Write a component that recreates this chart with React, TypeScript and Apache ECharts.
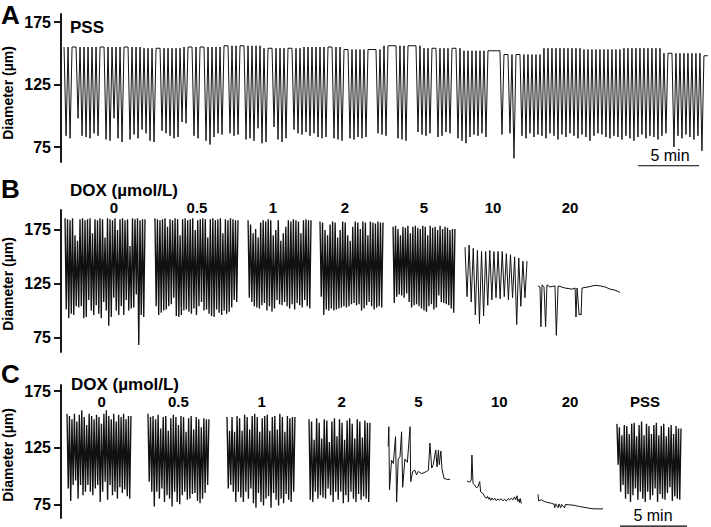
import React, { useEffect, useRef } from "react";
import * as echarts from "echarts";

const FONT = "'Liberation Sans', Arial, Helvetica, sans-serif";
const Y_TICKS = [75, 125, 175];

// ---------- Panel A (PSS), time in minutes ----------
const A_START_MIN = 0.25;
const A_END_MIN = 53.03;
// minimum diameter of each constriction (null = no constriction in that interval)
const A_DIPS: (number | null)[] = [
  84, 82, null, 98, 84, 83, 82, 86, 84, null,
  81, 80, 98, 82, 79, null, 81, 85, 82, 89,
  86, 80, 79, null, 88, 86, 84, 82, 83, 95,
  94, null, 84, 82, null, 80, 77, 83, 86, 85,
  null, 86, 84, 85, null, 81, 82, 80, 90, 78,
  79, null, 91, 81, 79, 82, null, 89, 86, 85,
  87, 84, 86, 83, 82, 83, null, 82, 81, 80,
  null, 82, 81, 83, 82, 83, null, null, 86, 85,
  84, null, null, 82, 81, 80, null, null, 87, 85,
  84, 86, null, 83, 84, 87, 86, null, 82, 80,
  78, 83, 85, 84, 86, 83, null, null, null, 85,
  null, 86, 66, null, 84, 82, 86, 83, 85, 84,
  82, 86, 84, 81, 85, 83, 86, 84, 82, 85,
  83, 80, 84, 86, 85, 83, 82, 84, 83, 81,
  84, 82, 80, 83, 85, 82, 84, 83, 81, 84,
  86, null, 75, 84, 82, 85, 83, 81, 84, 72,
  null,
];
// resting diameter, one value per 10 intervals
const A_BASELINE = [155, 155, 154, 155, 156, 154, 155, 153, 156, 154, 152, 149, 154, 153, 154, 150, 148];
const A_SCALEBAR_MIN = [47.3, 52.3];

// ---------- Panel B (DOX, vasomotion kept) ----------
const B_LABELS = ["0", "0.5", "1", "2", "5", "10", "20"];
const B_START_MIN = [0.3, 7.01, 13.96, 19.33, 24.78, 30.15, 35.6];
const B_END_MIN = [6.27, 13.21, 18.66, 24.03, 29.4, 34.78];
const B0_TOPS = [186, 185, 184, 186, 170, 165, 185, 186, 184, 185, 186, 172, 185, 184, 186, 185, 168, 186, 185, 184, 186, 175, 185, 186, 184, 185, 160, 186, 185, 186, 184, 185];
const B0_DIPS = [101, 93, 97, 96, 104, 103, 104, 93, 94, 110, 100, 96, 105, 97, 93, 108, 100, 86, 94, 112, 100, 96, 104, 96, 110, 100, 102, 103, 115, 68, 96, 94];
const B05_TOPS = [186, 185, 184, 185, 186, 178, 185, 184, 186, 185, 170, 185, 186, 184, 185, 186, 175, 184, 185, 186, 185, 168, 185, 186, 184, 185, 186, 172, 185, 184, 186, 185, 184];
const B05_DIPS = [104, 96, 98, 100, 101, 104, 106, 112, 95, 94, 96, 100, 101, 99, 97, 102, 96, 104, 108, 100, 101, 97, 95, 94, 101, 98, 96, 100, 97, 99, 103, 110, 108];
const B1_TOPS = [184, 180, 172, 176, 168, 182, 184, 183, 185, 184, 170, 175, 184, 165, 172, 178, 184, 183, 185, 184, 183, 172, 184, 185, 184];
const B1_DIPS = [112, 108, 104, 103, 102, 105, 107, 100, 104, 99, 102, 110, 106, 105, 108, 104, 102, 106, 101, 107, 105, 103, 110, 104, 102];
const B2_TOPS = [183, 182, 175, 170, 180, 183, 182, 168, 175, 183, 182, 170, 165, 178, 183, 182, 176, 183, 182, 170, 183, 182, 181, 183, 182];
const B2_DIPS = [113, 96, 101, 100, 102, 100, 101, 102, 103, 104, 103, 104, 106, 107, 105, 106, 100, 102, 105, 108, 104, 101, 103, 104, 103];
const B5_TOPS = [178, 179, 176, 170, 178, 177, 179, 172, 178, 179, 177, 176, 179, 178, 170, 179, 177, 178, 175, 179, 176, 178, 177, 175, 176];
const B5_DIPS = [107, 113, 115, 114, 112, 116, 108, 103, 105, 106, 104, 102, 100, 99, 104, 106, 101, 103, 114, 108, 107, 106, 105, 102, 98];
const B10_TOPS = [159, 161, 158, 156, 155, 155, 156, 155, 155, 155, 153, 152, 150, 149, 146];
const B10_DIPS = [113, 108, 96, 88, 95, 105, 110, 112, 111, 113, 110, 112, 87, 104, 112];
const B20_SEC = [0, 9, 13, 18, 27, 34, 40, 54, 76, 82, 90, 121, 152, 166, 170, 175, 184, 188, 193, 197, 224, 255, 278, 300, 323, 345, 367];
const B20_VAL = [123, 122, 85, 124, 122, 85, 124, 122, 123, 77, 123, 121, 120, 121, 94, 121, 96, 97, 96, 121, 122, 123.5, 123, 122, 120, 119, 117];

// ---------- Panel C (DOX, then washout PSS) ----------
const C_LABELS = ["0", "0.5", "1", "2", "5", "10", "20", "PSS"];
const C_START_MIN = [0.45, 6.49, 12.39, 18.51, 24.4, 30.3, 35.6, 41.49];
const C_END_MIN = [5.22, 11.04, 17.46, 23.06];
const CPSS_END_MIN = 46.27;
const C0_TOPS = [155, 153, 150, 155, 148, 154, 158, 152, 145, 155, 153, 150, 154, 152, 146, 155, 158, 153, 150, 155, 148, 154, 152, 155, 150, 153];
const C0_DIPS = [89, 78, 92, 96, 80, 92, 83, 86, 92, 86, 83, 89, 92, 77, 86, 95, 79, 92, 83, 86, 80, 90, 85, 88, 82, 80];
const C05_TOPS = [155, 152, 153, 150, 154, 142, 152, 153, 140, 151, 154, 152, 145, 153, 152, 139, 151, 153, 141, 152, 150, 143, 151, 150];
const C05_DIPS = [95, 86, 73, 86, 80, 89, 77, 83, 80, 73, 86, 77, 75, 83, 86, 79, 80, 84, 85, 78, 76, 80, 85, 92];
const C1_TOPS = [152, 140, 152, 139, 153, 151, 140, 154, 152, 141, 153, 155, 152, 139, 151, 153, 154, 140, 152, 153, 141, 155, 152, 139, 153, 151, 152];
const C1_DIPS = [89, 92, 86, 77, 86, 81, 77, 86, 80, 89, 76, 72, 85, 77, 74, 80, 82, 72, 85, 79, 74, 80, 76, 84, 79, 77, 86];
const C2_TOPS = [150, 148, 132, 151, 147, 133, 150, 149, 130, 148, 151, 135, 150, 147, 132, 149, 151, 146, 133, 150, 148, 134, 149, 147];
const C2_DIPS = [79, 77, 86, 80, 83, 81, 80, 89, 83, 77, 86, 79, 86, 76, 83, 77, 86, 80, 77, 84, 79, 82, 80, 77];
const C5_SEC = [1, 4, 7, 16, 24, 34, 39, 46, 54, 61, 66, 76, 87, 99, 102, 111, 121, 128, 136, 151, 173, 181, 188, 196, 203, 214, 220, 226, 230, 237, 242, 251, 263, 278];
const C5_VAL = [126, 143.5, 87.6, 114, 111, 134.7, 77, 115, 117, 139, 90, 115, 112, 143.5, 95, 104, 105, 101, 104, 102, 104, 105, 129, 107, 110, 123, 108, 123, 110, 122, 106, 98, 97, 97];
const C10_SEC = [0, 12, 19, 22, 27, 34, 42, 49, 57, 61, 72, 79, 87, 92, 97, 101, 106, 112, 118, 124, 131, 138, 146, 153, 161, 168, 176, 184, 191, 198, 206, 213, 218, 224, 228, 233, 236, 239, 243];
const C10_VAL = [95.6, 94.5, 96.5, 118.5, 93.5, 92, 89.7, 90.5, 95, 86, 84.5, 81.7, 80.3, 82, 79.5, 81, 78.5, 80.5, 78.8, 80.2, 78.2, 79.8, 78.5, 80, 78, 79.5, 78, 80, 78.8, 80.5, 79, 81.5, 79, 82.5, 77.5, 79.5, 76.5, 80, 75.7];
const C20_SEC = [0, 3, 15, 30, 45, 60, 72, 75, 78, 90, 93, 102, 105, 119, 122, 142, 164, 187, 216, 246, 291];
const C20_VAL = [83.8, 78, 79, 77.3, 76.5, 75.9, 75, 72, 75.5, 72, 75.3, 72, 75, 71.8, 74.8, 74.5, 74, 73, 72, 71, 70.9];
const CPSS_TOPS = [146, 143, 136, 145, 144, 137, 146, 147, 135, 145, 148, 136, 146, 144, 137, 145, 147, 136, 144, 146, 135, 143, 145, 137, 144, 142];
const CPSS_DIPS = [110, 86, 92, 80, 84, 77, 83, 89, 79, 86, 80, 77, 86, 79, 83, 89, 77, 84, 80, 79, 85, 90, 78, 82, 80, 79];
const C_SCALEBAR_MIN = [41.72, 46.72];

// ---------- builders ----------
function comb(start: number, end: number, tops: number[], dips: (number | null)[]) {
  const n = dips.length;
  const step = (end - start) / n;
  const out: number[][] = [];
  for (let k = 0; k < n; k++) {
    const top = tops[Math.min(k, tops.length - 1)];
    const d = dips[k];
    out.push([start + k * step, top]);
    out.push([start + (k + 0.5) * step, d == null ? top : d]);
  }
  out.push([end, tops[Math.min(n - 1, tops.length - 1)]]);
  return out;
}
function trace(start: number, secs: number[], vals: number[]) {
  return secs.map((s, i) => [start + s / 60, vals[i]]);
}

// ---------- layout (pixels) ----------
const LAYOUT = {
  grids: [
    { left: 61, top: 14, width: 650, height: 148, ymin: 63.0, ymax: 181.4, xmax: 53.28 },
    { left: 61, top: 210, width: 650, height: 142, ymin: 61.5, ymax: 193.6, xmax: 48.51 },
    { left: 61, top: 385, width: 650, height: 133, ymin: 62.9, ymax: 180.3, xmax: 48.51 },
  ],
  bLabelX: [114, 197, 273, 345, 424, 493, 570],
  bLabelY: 207,
  cLabelX: [101.7, 178.3, 261.7, 341.7, 418.3, 499.3, 570, 645],
  cLabelY: 401.7,
};

const LINE_COLOR = "#111";
const W_A = 1.0;
const W_COMB = 1.35;
const W_TRACE = 1.0;

function App() {
  const ref = useRef<HTMLDivElement>(null);
  useEffect(() => {
    if (!ref.current) return;
    const chart = echarts.init(ref.current, undefined, { renderer: "svg" });

    const seg = (data: number[][], axis: number, width: number) => ({
      type: "line",
      xAxisIndex: axis,
      yAxisIndex: axis,
      data,
      symbol: "none",
      showSymbol: false,
      silent: true,
      lineStyle: { color: LINE_COLOR, width },
    });

    const aTops = A_DIPS.map((_, k) => A_BASELINE[Math.floor(k / 10)]);
    const series: any[] = [
      seg(comb(A_START_MIN, A_END_MIN, aTops, A_DIPS), 0, W_A),
      seg(comb(B_START_MIN[0], B_END_MIN[0], B0_TOPS, B0_DIPS), 1, W_COMB),
      seg(comb(B_START_MIN[1], B_END_MIN[1], B05_TOPS, B05_DIPS), 1, W_COMB),
      seg(comb(B_START_MIN[2], B_END_MIN[2], B1_TOPS, B1_DIPS), 1, W_COMB),
      seg(comb(B_START_MIN[3], B_END_MIN[3], B2_TOPS, B2_DIPS), 1, W_COMB),
      seg(comb(B_START_MIN[4], B_END_MIN[4], B5_TOPS, B5_DIPS), 1, W_COMB),
      seg(comb(B_START_MIN[5], B_END_MIN[5], B10_TOPS, B10_DIPS), 1, W_TRACE),
      seg(trace(B_START_MIN[6], B20_SEC, B20_VAL), 1, W_TRACE),
      seg(comb(C_START_MIN[0], C_END_MIN[0], C0_TOPS, C0_DIPS), 2, W_COMB),
      seg(comb(C_START_MIN[1], C_END_MIN[1], C05_TOPS, C05_DIPS), 2, W_COMB),
      seg(comb(C_START_MIN[2], C_END_MIN[2], C1_TOPS, C1_DIPS), 2, W_COMB),
      seg(comb(C_START_MIN[3], C_END_MIN[3], C2_TOPS, C2_DIPS), 2, W_COMB),
      seg(trace(C_START_MIN[4], C5_SEC, C5_VAL), 2, W_TRACE),
      seg(trace(C_START_MIN[5], C10_SEC, C10_VAL), 2, W_TRACE),
      seg(trace(C_START_MIN[6], C20_SEC, C20_VAL), 2, W_TRACE),
      seg(comb(C_START_MIN[7], CPSS_END_MIN, CPSS_TOPS, CPSS_DIPS), 2, W_COMB),
      {
        type: "line", xAxisIndex: 0, yAxisIndex: 0, symbol: "none", silent: true, clip: false,
        data: [[A_SCALEBAR_MIN[0], 60], [A_SCALEBAR_MIN[1], 60]],
        lineStyle: { color: "#000", width: 1.2 },
      },
      {
        type: "line", xAxisIndex: 2, yAxisIndex: 2, symbol: "none", silent: true, clip: false,
        data: [[C_SCALEBAR_MIN[0], 55.8], [C_SCALEBAR_MIN[1], 55.8]],
        lineStyle: { color: "#000", width: 1.2 },
      },
    ];

    const text = (t: string, x: number, y: number, size: number, align: string, bold = true, rotation = 0) => ({
      type: "text",
      x,
      y,
      rotation,
      silent: true,
      style: {
        text: t,
        fontSize: size,
        fontWeight: bold ? "bold" : "normal",
        fontFamily: FONT,
        fill: "#000",
        align,
        verticalAlign: "middle",
        textAlign: align,
        textVerticalAlign: "middle",
      },
    });

    const graphics: any[] = [
      text("A", 1, 15, 26, "left"),
      text("B", 1, 189, 26, "left"),
      text("C", 1, 374, 26, "left"),
      text("Diameter (µm)", 8, 93, 14, "center", true, Math.PI / 2),
      text("Diameter (µm)", 8, 284, 14, "center", true, Math.PI / 2),
      text("Diameter (µm)", 8, 455, 14, "center", true, Math.PI / 2),
      text("PSS", 70, 27, 17, "left"),
      text("DOX (µmol/L)", 70, 190, 17, "left"),
      text("DOX (µmol/L)", 71, 384, 17, "left"),
      text("5 min", 670, 155, 16, "center", false),
      text("5 min", 653, 515, 16, "center", false),
      ...B_LABELS.map((l, i) => text(l, LAYOUT.bLabelX[i], LAYOUT.bLabelY, 15, "center")),
      ...C_LABELS.map((l, i) => text(l, LAYOUT.cLabelX[i], LAYOUT.cLabelY, 15, "center")),
    ];

    chart.setOption({
      animation: false,
      backgroundColor: "#fff",
      grid: LAYOUT.grids.map((g) => ({ left: g.left, top: g.top, width: g.width, height: g.height, containLabel: false })),
      xAxis: LAYOUT.grids.map((g, i) => ({ gridIndex: i, type: "value", min: 0, max: g.xmax, show: false })),
      yAxis: LAYOUT.grids.map((g, i) => ({
        gridIndex: i,
        type: "value",
        min: g.ymin,
        max: g.ymax,
        splitLine: { show: false },
        axisLine: { show: true, onZero: false, lineStyle: { color: "#000", width: 1.8 } },
        axisTick: { show: true, length: 7, customValues: Y_TICKS, lineStyle: { color: "#000", width: 1.8 } },
        axisLabel: { customValues: Y_TICKS, fontSize: 16, fontWeight: "bold", fontFamily: FONT, color: "#000", margin: 10 },
      })),
      series,
      graphic: graphics,
    });
    return () => chart.dispose();
  }, []);
  return <div ref={ref} style={{ position: "absolute", left: 0, top: 0, width: 711, height: 527, background: "#fff" }} />;
}

export default App;
